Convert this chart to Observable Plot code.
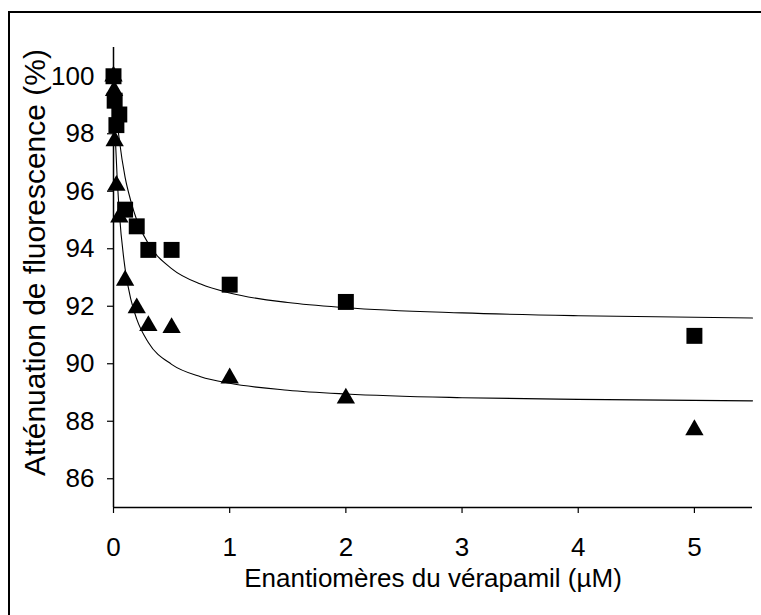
<!DOCTYPE html>
<html>
<head>
<meta charset="utf-8">
<script src="https://cdn.jsdelivr.net/npm/d3@7"></script>
<script src="https://cdn.jsdelivr.net/npm/@observablehq/plot@0.6"></script>
<style>
  html, body { margin: 0; padding: 0; background: #fff; overflow: hidden; }
  #wrap { position: relative; width: 761px; height: 615px; overflow: hidden; }
  #frame { position: absolute; left: 8px; top: 11px; width: 900px; height: 800px; border: 2px solid #000; box-sizing: border-box; }
  #chart { position: absolute; left: 0; top: 0; }
</style>
</head>
<body>
<div id="wrap"><div id="frame"></div><div id="chart"></div></div>
<script>
// Squares series
const sqConc = [0, 0.01, 0.025, 0.05, 0.1, 0.2, 0.3, 0.5, 1, 2, 5];
const sqVal  = [100, 99.15, 98.3, 98.67, 95.36, 94.78, 93.96, 93.96, 92.75, 92.15, 90.97];
// Triangles series
const trConc = [0, 0.005, 0.01, 0.025, 0.05, 0.1, 0.2, 0.3, 0.5, 1, 2, 5];
const trVal  = [100, 99.5, 97.75, 96.2, 95.1, 92.9, 91.94, 91.32, 91.25, 89.5, 88.8, 87.7];
// Fitted curves
const fitConc  = [0, 0.01, 0.02, 0.03, 0.05, 0.1, 0.15, 0.2, 0.3, 0.5, 0.75, 1, 1.5, 2, 3, 4, 5.5];
const fitUpper = [100, 99.44, 98.95, 98.50, 97.79, 96.48, 95.65, 95.00, 94.18, 93.31, 92.77, 92.46, 92.13, 91.95, 91.77, 91.67, 91.59];
const fitLower = [100, 98.58, 97.48, 96.60, 95.26, 93.30, 92.23, 91.55, 90.74, 89.98, 89.55, 89.32, 89.08, 88.95, 88.82, 88.76, 88.71];
const xTicks = [0, 1, 2, 3, 4, 5];
const yTicks = [86, 88, 90, 92, 94, 96, 98, 100];
const xTitle = "Enantiomères du vérapamil (µM)";
const yTitle = "Atténuation de fluorescence (%)";

const sq = sqConc.map((x, i) => ({x, y: sqVal[i]}));
const tr = trConc.map((x, i) => ({x, y: trVal[i]}));
const up = fitConc.map((x, i) => ({x, y: fitUpper[i]}));
const lo = fitConc.map((x, i) => ({x, y: fitLower[i]}));

const font = "Liberation Sans, Arial, sans-serif";
const chart = Plot.plot({
  width: 761,
  height: 615,
  marginLeft: 113,
  marginRight: 9,
  marginTop: 47,
  marginBottom: 108,
  style: {fontFamily: font, fontSize: "26px", color: "#000", background: "transparent"},
  x: {domain: [0, 5.5]},
  y: {domain: [85, 101]},
  marks: [
    Plot.ruleY([85], {x1: 0, x2: 5.5, stroke: "#000", strokeWidth: 1.5}),
    Plot.ruleX([0], {y1: 85, y2: 101, stroke: "#000", strokeWidth: 1.5}),
    Plot.axisX(xTicks, {tickSize: 6, stroke: "#000", strokeWidth: 1.2, tickFormat: () => "", label: null}),
    Plot.axisY(yTicks, {tickSize: 6, stroke: "#000", strokeWidth: 1.2, tickFormat: () => "", label: null}),
    Plot.text(xTicks, {x: d => d, y: 85, text: d => String(d), dy: 30, lineAnchor: "top", textAnchor: "middle", fontSize: 26, fill: "#000"}),
    Plot.text(yTicks, {x: 0, y: d => d, text: d => String(d), dx: -19, lineAnchor: "middle", textAnchor: "end", fontSize: 26, fill: "#000"}),
    Plot.text([xTitle], {frameAnchor: "bottom", dy: 79, fontSize: 26, fill: "#000", textAnchor: "middle"}),
    Plot.text([yTitle], {frameAnchor: "left", rotate: -90, dx: -78, dy: -15, fontSize: 30, fill: "#000", textAnchor: "middle"}),
    Plot.line(up, {x: "x", y: "y", stroke: "#000", strokeWidth: 1.1, curve: "monotone-x"}),
    Plot.line(lo, {x: "x", y: "y", stroke: "#000", strokeWidth: 1.1, curve: "monotone-x"}),
    Plot.dot(tr, {x: "x", y: "y", symbol: "triangle", r: 6.8, fill: "#000", stroke: "none"}),
    Plot.dot(sq, {x: "x", y: "y", symbol: "square", r: 9, fill: "#000", stroke: "none"})
  ]
});
document.getElementById("chart").appendChild(chart);
</script>
</body>
</html>
